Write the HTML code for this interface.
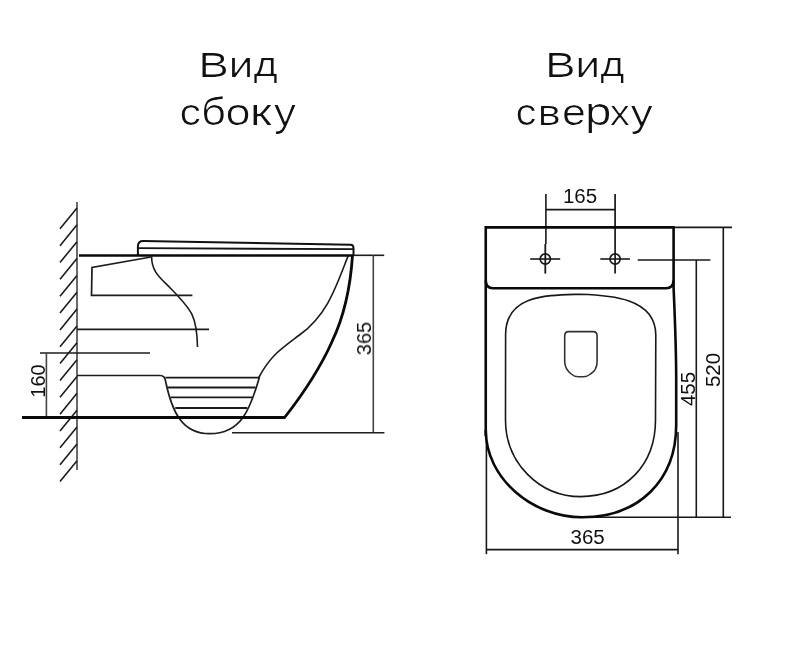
<!DOCTYPE html>
<html><head><meta charset="utf-8">
<style>
html,body{margin:0;padding:0;background:#fff;width:800px;height:646px;overflow:hidden}
svg{display:block}
.t{font-family:"Liberation Sans",sans-serif;fill:#111}
</style></head>
<body>
<svg width="800" height="646" viewBox="0 0 800 646">
<defs><filter id="thin" x="-5%" y="-20%" width="110%" height="140%" color-interpolation-filters="sRGB"><feOffset in="SourceGraphic" dx="1" dy="0" result="a"/><feOffset in="SourceGraphic" dx="0" dy="0" result="b"/><feComposite in="a" in2="b" operator="in"/></filter><filter id="gs" x="0" y="0" width="100%" height="100%"><feOffset dx="0" dy="0"/></filter></defs>
<g class="t" filter="url(#thin)"><g transform="translate(-0.5 0)">
<text transform="matrix(0.4598 0 0 0.3435 198.32 76.90)" font-size="100">В</text>
<text transform="matrix(0.4476 0 0 0.3528 228.47 76.80)" font-size="100">и</text>
<text transform="matrix(0.4162 0 0 0.3342 253.58 75.82)" font-size="100">д</text>
<text transform="matrix(0.4302 0 0 0.3764 179.46 125.22)" font-size="100">с</text>
<text transform="matrix(0.4362 0 0 0.3826 201.08 125.02)" font-size="100">б</text>
<text transform="matrix(0.4505 0 0 0.3709 225.50 125.03)" font-size="100">о</text>
<text transform="matrix(0.5013 0 0 0.3604 249.84 125.10)" font-size="100">к</text>
<text transform="matrix(0.4388 0 0 0.3796 273.98 125.93)" font-size="100">у</text>
<text transform="matrix(0.4186 0 0 0.3727 515.62 125.13)" font-size="100">с</text>
<text transform="matrix(0.4405 0 0 0.3585 537.42 125.00)" font-size="100">в</text>
<text transform="matrix(0.4301 0 0 0.3727 562.06 125.13)" font-size="100">е</text>
<text transform="matrix(0.4778 0 0 0.3826 584.89 125.47)" font-size="100">р</text>
<text transform="matrix(0.3936 0 0 0.3585 609.91 125.00)" font-size="100">х</text>
<text transform="matrix(0.4388 0 0 0.3741 630.78 125.64)" font-size="100">у</text>
<text transform="matrix(0.4598 0 0 0.3435 545.02 76.90)" font-size="100">В</text>
<text transform="matrix(0.4476 0 0 0.3528 575.17 76.80)" font-size="100">и</text>
<text transform="matrix(0.4162 0 0 0.3342 600.28 75.82)" font-size="100">д</text>
</g></g>
<!-- SIDE VIEW thin -->
<g fill="none" stroke="#1c1c1c" stroke-width="1.6">
<line x1="77" y1="202" x2="77" y2="470" stroke="#444"/>
<path d="M77 208.00 L60 228.80 M77 224.85 L60 245.65 M77 241.70 L60 262.50 M77 258.55 L60 279.35 M77 275.40 L60 296.20 M77 292.25 L60 313.05 M77 309.10 L60 329.90 M77 325.95 L60 346.75 M77 342.80 L60 363.60 M77 359.65 L60 380.45 M77 376.50 L60 397.30 M77 393.35 L60 414.15 M77 410.20 L60 431.00 M77 427.05 L60 447.85 M77 443.90 L60 464.70 M77 460.75 L60 481.55"/>
<line x1="77" y1="329.4" x2="209" y2="329.4"/>
<line x1="40" y1="353" x2="150" y2="353"/>
<path d="M77 375.5 L160 375.5 Q165 375.5 165.5 381 C172 412 182 433.7 209.75 433.7 C241 433.7 250 410 259.5 377" stroke-width="1.7"/>
<line x1="46.4" y1="353" x2="46.4" y2="417.5" stroke="#444"/>
<line x1="353" y1="255.3" x2="384.2" y2="255.3"/>
<line x1="373.3" y1="255.3" x2="373.3" y2="432.7" stroke="#444"/>
<line x1="232" y1="432.8" x2="384.4" y2="432.8"/>
<path d="M137.9 255 L137.9 246 Q138.3 241.1 143 241.1 L350.8 244.7 Q353.5 244.9 353.5 248 L353.5 255" stroke-width="2" stroke="#111"/>
<line x1="138.5" y1="248.2" x2="353.5" y2="249.2" stroke-width="1.8" stroke="#151515"/>
<path d="M151 257 L92 267.4 L91.5 295.3 L192.4 295.3" stroke-width="1.7"/>
<path d="M151.6 256.5 C151.6 272.3 160.8 278.3 171.0 288.7 C192.4 310.5 196.9 316.6 197.5 347.0" stroke-width="1.6"/>
<g stroke-width="1.8" stroke="#1a1a1a"><line x1="165.5" y1="377.7" x2="259.2" y2="377.7"/>
<line x1="167.75" y1="387.5" x2="255.5" y2="387.5"/>
<line x1="170.75" y1="397.3" x2="252.5" y2="397.3"/>
<line x1="175.25" y1="408" x2="247.25" y2="408"/></g>

<path d="M348.3 255.4 C336.3 285.8 327.8 314.5 300.1 334.5 C280.3 349.5 270.7 355.1 258.5 378.0" stroke-width="1.6"/>
</g>
<!-- SIDE VIEW thick -->
<g fill="none" stroke="#0a0a0a" stroke-width="2.6">
<line x1="79" y1="255.5" x2="353" y2="255.5" stroke-width="2.4"/>
<path d="M22 417.5 L284.6 417.5 C302.2 395.0 320.6 367.2 332.2 341.2 C344.2 316.0 350.7 283.2 352.5 255.4" stroke-width="2.8"/>
</g>
<g class="t" font-size="20" filter="url(#gs)">
<text transform="translate(44.5,381) rotate(-90)" text-anchor="middle">160</text>
<text transform="translate(371,338.5) rotate(-90)" text-anchor="middle">365</text>
</g>

<!-- TOP VIEW thin -->
<g fill="none" stroke="#181818" stroke-width="1.6">
<line x1="545.9" y1="194" x2="545.9" y2="244"/>
<line x1="545.3" y1="244" x2="545.3" y2="273.6" stroke-width="1.8"/>
<line x1="615.1" y1="194" x2="615.1" y2="273.6" stroke-width="1.7"/>
<line x1="545.9" y1="209.6" x2="615.1" y2="209.6"/>
<circle cx="545.3" cy="259" r="5.1" stroke-width="1.7"/>
<circle cx="615.1" cy="259" r="5.1" stroke-width="1.7"/>
<line x1="530.2" y1="259" x2="560.2" y2="259"/>
<line x1="600.3" y1="259" x2="629.9" y2="259"/>
<line x1="673.5" y1="227.4" x2="732" y2="227.4"/>
<line x1="637.7" y1="260" x2="710.4" y2="260"/>
<line x1="723.3" y1="227.4" x2="723.3" y2="517.3"/>
<line x1="696.3" y1="260" x2="696.3" y2="517.3"/>
<line x1="582" y1="517.3" x2="731" y2="517.3"/>
<line x1="486.4" y1="436" x2="486.4" y2="554.2"/>
<line x1="678" y1="432" x2="678" y2="554.2"/>
<line x1="486.4" y1="549.6" x2="678" y2="549.6"/>
<path d="M505.5 420 L505.6 335 C505.6 294.2 547.5 295.2 580.1 294.2 C609.7 295.1 655.8 297.7 655.8 335 L655.5 420 C655.5 465 625 496.6 580.7 496.6 C539.2 496.6 505.5 462.8 505.5 420 Z"/>
<path d="M568.8 331.6 L593 331.6 Q597.1 331.6 597.1 335.8 L597.1 361.5 C597.1 368 594 372 590.5 374 C588 376 586 376.7 583.5 376.7 L578.3 376.7 C575.5 376.7 573.5 376 571.2 374 C567.5 371 564.7 368 564.7 361.5 L564.7 335.8 Q564.7 331.6 568.8 331.6 Z" stroke="#333"/>
</g>
<!-- TOP VIEW thick -->
<g fill="none" stroke="#0a0a0a" stroke-width="2.6">
<path d="M485.75 436 L485.75 227.4 L673.6 227.4 L673.6 288 C674.5 310 676.2 345 676.2 380 L676.2 425"/>
<path d="M485.75 280.5 Q485.75 288.3 493 288.3 L666 288.3 Q673.5 288.3 673.5 280.5" stroke-width="2.6"/>
<path d="M485.75 430 C485.75 478.8 532.9 517.3 582 517.3 C638.6 517.3 676.2 480.5 676.2 425"/>
</g>
<g class="t" font-size="20.5" filter="url(#gs)">
<text x="580" y="202.8" text-anchor="middle">165</text>
<text x="587.6" y="544" text-anchor="middle">365</text>
<text transform="translate(695,389) rotate(-90)" text-anchor="middle">455</text>
<text transform="translate(720.3,370) rotate(-90)" text-anchor="middle">520</text>
</g>
</svg>
</body></html>
